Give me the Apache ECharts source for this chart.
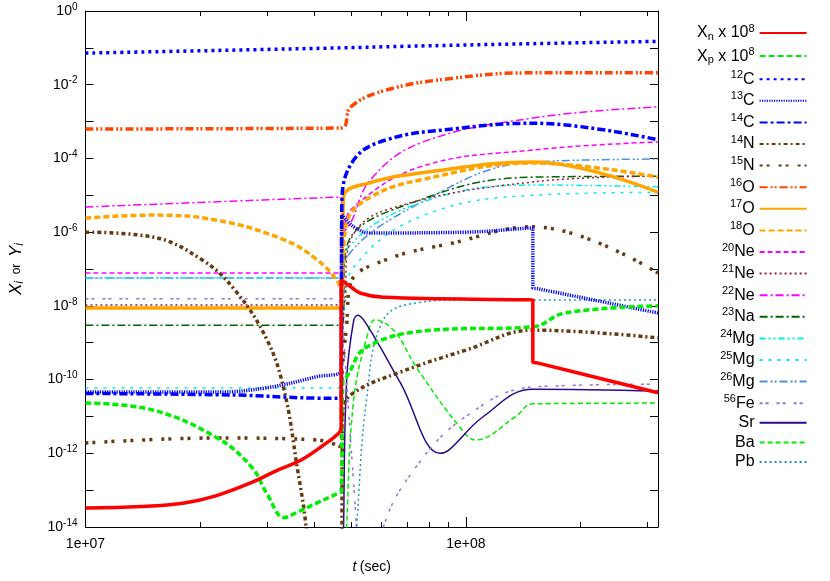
<!DOCTYPE html>
<html><head><meta charset="utf-8">
<script src="https://cdn.jsdelivr.net/npm/echarts@6/dist/echarts.min.js"></script>
<style>html,body{margin:0;padding:0;background:#fff}#c{width:830px;height:581px}</style>
</head><body><div id="c"></div>
<script>
const seriesNames = ['Xn','Xp','12C','13C','14C','14N','15N','16O','17O','18O','20Ne','21Ne','22Ne','23Na','24Mg','25Mg','26Mg','56Fe','Sr','Ba','Pb'];
const legendLabels = ['{t|X}{sub|n}{t| x 10}{sup|8}','{t|X}{sub|p}{t| x 10}{sup|8}','{sup|12}{t|C}','{sup|13}{t|C}','{sup|14}{t|C}','{sup|14}{t|N}','{sup|15}{t|N}','{sup|16}{t|O}','{sup|17}{t|O}','{sup|18}{t|O}','{sup|20}{t|Ne}','{sup|21}{t|Ne}','{sup|22}{t|Ne}','{sup|23}{t|Na}','{sup|24}{t|Mg}','{sup|25}{t|Mg}','{sup|26}{t|Mg}','{sup|56}{t|Fe}','{t|Sr}','{t|Ba}','{t|Pb}'];
const xTickLabels = {7:'1e+07', 8:'1e+08'};

const Xn = [[1e7,3.3e-14],[1.4e7,3.6e-14],[1.82e7,4.5e-14],[2.2e7,7e-14],[2.73e7,1.6e-13],[3.2e7,3.5e-13],[3.69e7,6.6e-13],[4.2e7,1.6e-12],[4.63e7,3.5e-12],[4.7e7,5e-12],[4.7e7,5e-8],[5.0e7,3.2e-8],[5.29e7,2.2e-8],[6.07e7,1.7e-8],[1.45e8,1.46e-8],[1.5e8,1.45e-8],[1.5e8,3.0e-10],[1.55e8,2.8e-10],[3.2e8,4.4e-11]];
const Xp = [[1e7,2.3e-11],[1.5e7,1.5e-11],[2.22e7,2.6e-12],[2.73e7,4.3e-13],[3.0e7,8e-14],[3.33e7,1.8e-14],[3.6e7,2.5e-14],[4.06e7,4.5e-14],[4.63e7,8.3e-14],[4.7e7,9e-14],[4.75e7,1e-10],[4.86e7,1.2e-10],[5.48e7,7.6e-10],[8.2e7,2.2e-9],[1.5e8,2.7e-9],[1.82e8,6.4e-9],[3.2e8,1e-8]];
const C12 = [[1e7,7.2e-2],[4.7e7,1e-1],[6.85e7,1.1e-1],[1.5e8,1.3e-1],[3.2e8,1.5e-1]];
const C13 = [[1e7,4.6e-11],[2.22e7,4.6e-11],[3.0e7,6e-11],[4.06e7,1.2e-10],[4.7e7,1.8e-10],[4.72e7,3e-6],[5.07e7,1.4e-6],[5.61e7,9.5e-7],[1e8,1.0e-6],[1.45e8,1.28e-6],[1.5e8,1.3e-6],[1.5e8,3.1e-8],[1.55e8,2.9e-8],[3.2e8,6.4e-9]];
const C14 = [[1e7,4.2e-11],[2.5e7,3.8e-11],[3.7e7,3.2e-11],[4.7e7,3.1e-11],[4.72e7,6e-6],[5.07e7,9e-5],[6.18e7,3.2e-4],[9.25e7,6.3e-4],[1.5e8,9e-4],[3.2e8,3.2e-4]];
const N14 = [[1e7,1e-6],[1.5e7,7.4e-7],[2.02e7,1.8e-7],[2.47e7,2.7e-8],[3e7,1.2e-9],[3.33e7,5e-11],[3.6e7,4.3e-13],[3.8e7,1e-14],[3.9e7,1e-16],[4.7e7,1e-16],[4.75e7,1.5e-11],[5.07e7,4.4e-11],[6.73e7,1.6e-10],[1e8,6.3e-10],[1.5e8,2.2e-9],[3.2e8,1.35e-9]];
const N15 = [[1e7,1.9e-12],[2.22e7,2.6e-12],[4.06e7,2.3e-12],[4.7e7,1.5e-12],[4.72e7,1e-10],[4.86e7,3e-9],[4.98e7,4.2e-8],[6.18e7,1.8e-7],[9.25e7,5.1e-7],[1.5e8,1.4e-6],[3.2e8,7.8e-8]];
const O16 = [[1e7,6.3e-4],[4.7e7,6.7e-4],[4.98e7,2.5e-3],[6.18e7,7.2e-3],[9.25e7,1.5e-2],[1.47e8,2.1e-2],[3.2e8,2.1e-2]];
const O17 = [[1e7,8.7e-9],[4.7e7,8.7e-9],[4.77e7,8.9e-6],[5.61e7,2.2e-5],[7.58e7,4e-5],[1.5e8,8e-5],[3.2e8,1.2e-5]];
const O18 = [[1e7,2.4e-6],[1.5e7,2.9e-6],[2.22e7,2.1e-6],[3.33e7,6.2e-7],[4.06e7,1.8e-7],[4.58e7,5e-8],[4.7e7,2.7e-8],[4.86e7,1.8e-6],[5.61e7,8.9e-6],[7.58e7,2.6e-5],[1.5e8,7.5e-5],[3.2e8,3.1e-5]];
const Ne20 = [[1e7,7.8e-8],[4.7e7,7.8e-8],[4.77e7,1.1e-6],[5.07e7,4.8e-6],[7.58e7,5.9e-5],[1.5e8,1.7e-4],[3.2e8,2.8e-4]];
const Ne21 = [[1e7,1.05e-8],[4.7e7,1.05e-8],[4.98e7,6.2e-7],[6.18e7,4e-6],[1.5e8,2.3e-5],[3.2e8,3.3e-5]];
const Ne22 = [[1e7,4.8e-6],[4.7e7,8.9e-6],[4.75e7,1e-6],[4.98e7,1.8e-6],[5.61e7,2.6e-5],[7.58e7,2.6e-4],[1.5e8,1.25e-3],[3.2e8,2.5e-3]];
const Na23 = [[1e7,3e-9],[4.7e7,3e-9],[4.86e7,4e-7],[7.58e7,7.5e-6],[1.5e8,3.1e-5],[3.2e8,3.3e-5]];
const Mg24 = [[1e7,5.7e-8],[4.7e7,5.7e-8],[4.86e7,3.3e-7],[7.58e7,6.2e-6],[1.5e8,1.9e-5],[3.2e8,1.7e-5]];
const Mg25 = [[1e7,5.9e-11],[4.7e7,5.9e-11],[4.8e7,1e-8],[5.07e7,1.1e-7],[7.58e7,2.6e-6],[1.5e8,1.0e-5],[3.2e8,1.2e-5]];
const Mg26 = [[1e7,5.7e-8],[4.7e7,5.7e-8],[4.77e7,1.5e-7],[7.58e7,6.2e-6],[1.5e8,8e-5],[3.2e8,9.6e-5]];
const Fe56 = [[1e7,1.55e-8],[4.7e7,1.55e-8],[4.8e7,5e-10],[5.16e7,1e-14],[5.3e7,1e-16],[5.7e7,1e-16],[6.07e7,1e-14],[7.4e7,4.3e-13],[1e8,1e-11],[1.5e8,6.3e-11],[3.2e8,7.5e-11]];
const Sr = [[4.75e7,1e-16],[4.77e7,1e-14],[4.86e7,1e-10],[5.07e7,4e-9],[5.2e7,5.6e-9],[5.5e7,3e-9],[6.73e7,8.1e-11],[8.55e7,1.0e-12],[9e7,1.2e-12],[1.11e8,9.8e-12],[1.5e8,5.5e-11],[3.2e8,4.9e-11]];
const Ba = [[4.8e7,1e-16],[4.86e7,1e-14],[5.07e7,2.8e-11],[5.5e7,1.5e-9],[5.78e7,4.2e-9],[6.5e7,2e-9],[7.4e7,2.2e-10],[9.64e7,5.1e-12],[1.06e8,2.3e-12],[1.35e8,9.8e-12],[1.5e8,2.2e-11],[3.2e8,2.3e-11]];
const Pb = [[5.0e7,1e-16],[5.16e7,1e-14],[5.48e7,2.8e-11],[6.07e7,4.2e-9],[7.4e7,1.2e-8],[1e8,1.45e-8],[3.2e8,1.45e-8]];

const allData = [Xn,Xp,C12,C13,C14,N14,N15,O16,O17,O18,Ne20,Ne21,Ne22,Na23,Mg24,Mg25,Mg26,Fe56,Sr,Ba,Pb];
const styles = [
 {c:'#ff0000',w:3.5,t:'solid'},
 {c:'#00ee00',w:3.5,t:[6,3]},
 {c:'#0000ff',w:3.5,t:[3,4]},
 {c:'#0000ff',w:3.5,t:[1.2,1.2]},
 {c:'#0000ff',w:3.5,t:[8,3,3,3]},
 {c:'#663a0e',w:3.5,t:[4,3,2,3]},
 {c:'#663a0e',w:3.5,t:[3,4,3,9]},
 {c:'#ff4500',w:3.5,t:[8,3,2,2,2,3]},
 {c:'#ffa500',w:3.5,t:'solid'},
 {c:'#ffa500',w:3.5,t:[6,3]},
 {c:'#ff00ff',w:1.5,t:[5,3]},
 {c:'#a0183c',w:1.5,t:[2,3]},
 {c:'#ff00ff',w:1.5,t:[8,3,2,3]},
 {c:'#006400',w:1.5,t:[8,3,2,3]},
 {c:'#00eeee',w:1.5,t:[6,3,2,3,2,3]},
 {c:'#00eeee',w:1.5,t:[3,6]},
 {c:'#4a90e2',w:1.5,t:[8,3,2,2,2,3]},
 {c:'#9370db',w:1.5,t:[3,3,3,8]},
 {c:'#2a0a8a',w:1.5,t:'solid'},
 {c:'#00ee00',w:1.5,t:[5,3]},
 {c:'#1a9ab0',w:1.5,t:[2,3]}
];

const font = 'Liberation Sans, Arial, sans-serif';
const series = seriesNames.map((n,i)=>({
  name:n, type:'line', data:allData[i], showSymbol:false, symbol:'none',
  smooth:0.4, clip:true,
  lineStyle:{color:styles[i].c,width:styles[i].w,type:styles[i].t},
  itemStyle:{color:styles[i].c}, z: 20-i
}));
const supRich = {t:{fontSize:16,fontFamily:font,color:'#000'},sup:{fontSize:11,fontFamily:font,padding:[0,0,9,0],color:'#000'},sub:{fontSize:11,fontFamily:font,padding:[8,0,0,0],color:'#000'}};
const chart = echarts.init(document.getElementById('c'),null,{renderer:'canvas'});
chart.setOption({
  animation:false,
  grid:{left:80,right:172,top:11,bottom:54},
  legend:{orient:'vertical',left:692,top:18,itemGap:3.6,itemWidth:47,itemHeight:14,align:'right',
    data:seriesNames, itemStyle:{opacity:0},
    formatter:n=>legendLabels[seriesNames.indexOf(n)],
    textStyle:{width:64,align:'right',rich:supRich,fontFamily:font,fontSize:16}},
  xAxis:[{type:'log',logBase:10,min:1e7,max:3.2e8,
    name:'{i|t} {t|(sec)}',nameLocation:'middle',nameGap:33,
    nameTextStyle:{rich:{i:{fontStyle:'italic',fontSize:14,fontFamily:font},t:{fontSize:14,fontFamily:font}}},
    axisLine:{lineStyle:{color:'#000',width:1}},axisTick:{inside:true,length:10,lineStyle:{color:'#000'}},
    minorTick:{show:true,splitNumber:9,length:5,lineStyle:{color:'#000'}},
    axisLabel:{color:'#000',fontSize:14,fontFamily:font,margin:10,formatter:v=>xTickLabels[Math.round(Math.log10(v))]||''},
    splitLine:{show:false}},
   {type:'log',position:'top',min:1e7,max:3.2e8,axisLine:{lineStyle:{color:'#000'}},axisTick:{inside:true,length:10,lineStyle:{color:'#000'}},
    minorTick:{show:true,splitNumber:9,length:5,lineStyle:{color:'#000'}},axisLabel:{show:false},splitLine:{show:false}}],
  yAxis:[{type:'log',logBase:10,min:1e-14,max:1,interval:1,
    name:'{i|X}{s|i}{t|  or  }{i|Y}{s|i}',nameLocation:'middle',nameGap:60,nameRotate:90,
    nameTextStyle:{rich:{i:{fontStyle:'italic',fontSize:17,fontFamily:font},s:{fontStyle:'italic',fontSize:12,fontFamily:font,padding:[6,0,0,0]},t:{fontSize:12,fontFamily:font}}},
    axisLine:{lineStyle:{color:'#000'}},axisTick:{inside:true,length:8,lineStyle:{color:'#000'}},
    axisLabel:{color:'#000',margin:8,formatter:v=>{const e=Math.round(Math.log10(v)); return e%2===0?'{t|10}{sup|'+e+'}':'';},
      rich:{t:{fontSize:14,fontFamily:font},sup:{fontSize:10,fontFamily:font,padding:[0,0,8,0]}}},
    splitLine:{show:false}},
   {type:'log',position:'right',min:1e-14,max:1,interval:1,axisLine:{lineStyle:{color:'#000'}},
    axisTick:{inside:true,length:8,lineStyle:{color:'#000'}},axisLabel:{show:false},splitLine:{show:false}}],
  series:series
});
</script></body></html>
